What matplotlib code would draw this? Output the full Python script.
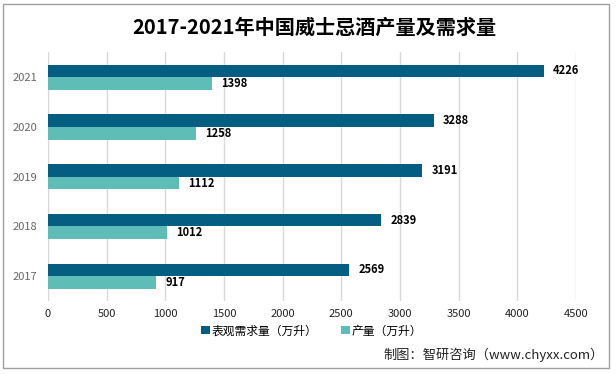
import matplotlib.pyplot as plt
import numpy as np
from matplotlib.patches import Rectangle

plt.rcParams['font.family'] = ['Noto Sans CJK SC', 'DejaVu Sans']

years = ['2017', '2018', '2019', '2020', '2021']
demand = [2569, 2839, 3191, 3288, 4226]
output = [917, 1012, 1112, 1258, 1398]
xticks = [0, 500, 1000, 1500, 2000, 2500, 3000, 3500, 4000, 4500]

dark = '#045e81'
light = '#5fbdb8'

fig = plt.figure(figsize=(6.16, 3.74), dpi=100)
ax = fig.add_axes([0.078, 0.195, 0.857, 0.665])

y = np.arange(len(years))
h = 0.255
ax.barh(y + h / 2, demand, height=h, color=dark, label='表观需求量（万升）', zorder=3)
ax.barh(y - h / 2, output, height=h, color=light, label='产量（万升）', zorder=3)

for i in range(len(years)):
    ax.text(demand[i] + 80, y[i] + h / 2, str(demand[i]), va='center', ha='left',
            fontsize=8, fontweight='bold', color='black')
    ax.text(output[i] + 80, y[i] - h / 2, str(output[i]), va='center', ha='left',
            fontsize=8, fontweight='bold', color='black')

ax.set_xlim(0, 4500)
ax.set_ylim(-0.5, 4.5)
ax.set_xticks(xticks)
ax.set_yticks(y)
ax.set_yticklabels(years)
ax.tick_params(axis='x', length=0, labelsize=8, colors='#222222', pad=6)
ax.tick_params(axis='y', length=0, labelsize=8, colors='#666666', pad=8)
ax.grid(axis='x', color='#d9d9d9', linewidth=1, zorder=0)
for s in ax.spines.values():
    s.set_visible(False)

fig.text(0.51, 0.928, '2017-2021年中国威士忌酒产量及需求量', ha='center', va='center',
         fontsize=14.5, fontweight='bold', color='black')

ax.legend(loc='center', bbox_to_anchor=(0.5, -0.12), ncol=2, frameon=False,
          fontsize=8.5, handlelength=0.7, handleheight=0.7, handletextpad=0.2,
          columnspacing=2.0, borderaxespad=0)

fig.text(0.981, 0.05, '制图：智研咨询（www.chyxx.com）', ha='right', va='center',
         fontsize=9.5, color='#222222')

fig.patches.append(Rectangle((0.005, 0.017), 0.983, 0.972, transform=fig.transFigure,
                             fill=False, edgecolor='#a0a0a0', linewidth=1))

fig.savefig('out.png', dpi=100)
